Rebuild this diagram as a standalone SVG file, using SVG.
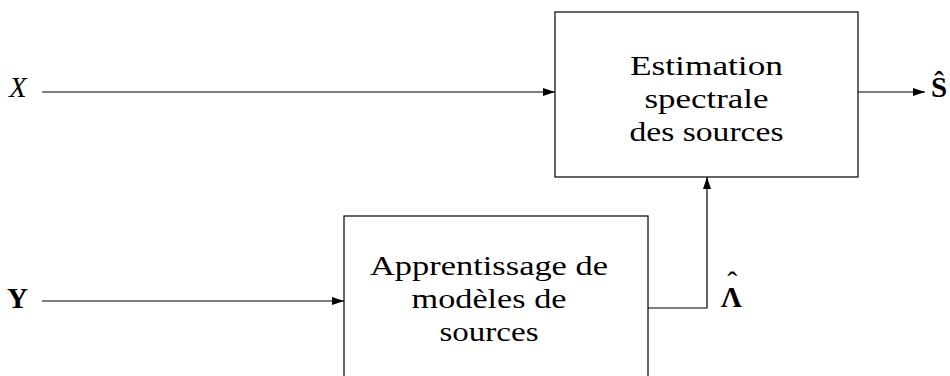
<svg xmlns="http://www.w3.org/2000/svg" width="950" height="376" viewBox="0 0 950 376">
<style>
.box{fill:#fff;stroke:#000;stroke-width:1.2}
.ln{fill:none;stroke:#000;stroke-width:1.2}
.t{font-family:"Liberation Serif","DejaVu Serif",serif;font-size:27px;fill:#000;text-anchor:middle}
.v{font-family:"Liberation Serif","DejaVu Serif",serif;font-size:29px;fill:#000}
</style>
<defs>
<marker id="ah" viewBox="0 0 12 8" refX="12" refY="4" markerWidth="12" markerHeight="8" markerUnits="userSpaceOnUse" orient="auto">
<path d="M0,0 L12,4 L0,8 Z" fill="#000"/>
</marker>
</defs>
<rect width="950" height="376" fill="#fff"/>
<g id="connectors">
<line class="ln" x1="42" y1="92" x2="555" y2="92" marker-end="url(#ah)"/>
<line class="ln" x1="42" y1="301" x2="344" y2="301" marker-end="url(#ah)"/>
<line class="ln" x1="858" y1="92" x2="925" y2="92" marker-end="url(#ah)"/>
<polyline class="ln" points="648,308 707,308 707,177" marker-end="url(#ah)"/>
</g>
<g id="estimation">
<rect class="box" x="555" y="12" width="303" height="165"/>
<text class="t" x="706.5" y="75" textLength="153" lengthAdjust="spacingAndGlyphs">Estimation</text>
<text class="t" x="706.5" y="108" textLength="124" lengthAdjust="spacingAndGlyphs">spectrale</text>
<text class="t" x="706.5" y="141" textLength="154" lengthAdjust="spacingAndGlyphs">des sources</text>
</g>
<g id="apprentissage">
<rect class="box" x="344" y="216" width="304" height="175"/>
<text class="t" x="489" y="275" textLength="238" lengthAdjust="spacingAndGlyphs">Apprentissage de</text>
<text class="t" x="489" y="308" textLength="155" lengthAdjust="spacingAndGlyphs">modèles de</text>
<text class="t" x="489" y="341" textLength="99" lengthAdjust="spacingAndGlyphs">sources</text>
</g>
<g id="input-x">
<text class="v" x="9" y="97" font-style="italic">X</text>
</g>
<g id="input-y">
<text class="v" x="7" y="308" font-weight="bold">Y</text>
</g>
<g id="output-s">
<text class="v" x="931" y="97" font-weight="bold" font-size="26">Ŝ</text>
</g>
<g id="lambda">
<text class="v" x="721" y="307" font-weight="bold" font-size="26">Λ<tspan dx="-14.5" dy="-15" font-weight="normal" font-size="30">ˆ</tspan></text>
</g>
</svg>
